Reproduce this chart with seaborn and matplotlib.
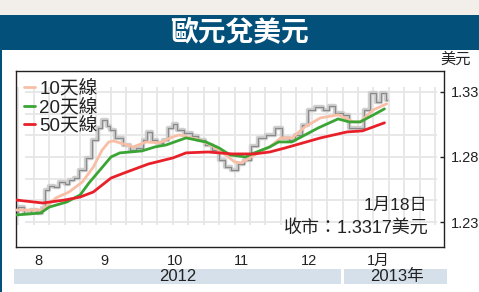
import matplotlib
matplotlib.use("Agg")
import matplotlib.pyplot as plt
import matplotlib.dates as mdates
from matplotlib.patches import Rectangle
from matplotlib.ticker import NullFormatter, FixedLocator, FixedFormatter
import seaborn as sns
import pandas as pd

# ---------------- data ----------------
price_dates = ["2012-08-05","2012-08-07","2012-08-10","2012-08-13","2012-08-16","2012-08-17","2012-08-19",
               "2012-08-21","2012-08-23","2012-08-26","2012-08-28","2012-08-30","2012-09-01","2012-09-04",
               "2012-09-07","2012-09-10","2012-09-12","2012-09-14","2012-09-16","2012-09-17","2012-09-21",
               "2012-09-24","2012-09-27","2012-09-30","2012-10-03","2012-10-04","2012-10-07","2012-10-09",
               "2012-10-12","2012-10-14","2012-10-16","2012-10-18","2012-10-22","2012-10-25","2012-10-28",
               "2012-10-31","2012-11-04","2012-11-06","2012-11-09","2012-11-12","2012-11-15","2012-11-18",
               "2012-11-21","2012-11-24","2012-11-29","2012-12-02","2012-12-05","2012-12-08","2012-12-11",
               "2012-12-14","2012-12-17","2012-12-20","2012-12-24","2012-12-26","2012-12-29","2013-01-02",
               "2013-01-04","2013-01-08","2013-01-11","2013-01-14","2013-01-16","2013-01-19","2013-01-20"]
price_vals = [1.2377,1.2415,1.2369,1.2392,1.2369,1.2408,1.2546,1.2577,1.2569,1.2608,1.2592,1.2623,1.2638,
              1.2700,1.2792,1.2931,1.3023,1.3085,1.3038,1.3008,1.2946,1.2892,1.2854,1.2869,1.2931,1.2992,
              1.2931,1.2908,1.2931,1.3023,1.3054,1.3008,1.2985,1.2962,1.2931,1.2892,1.2854,1.2777,1.2723,
              1.2700,1.2746,1.2777,1.2885,1.2946,1.2969,1.3023,1.2946,1.2931,1.2969,1.3046,1.3162,1.3185,
              1.3162,1.3192,1.3138,1.3123,1.3023,1.3023,1.3162,1.3292,1.3223,1.3292,1.3238]

ma10_dates = ["2012-08-05","2012-08-17","2012-08-23","2012-08-29","2012-09-04","2012-09-09","2012-09-13",
              "2012-09-16","2012-09-18","2012-09-21","2012-09-27","2012-10-03","2012-10-09","2012-10-15",
              "2012-10-18","2012-10-27","2012-11-02","2012-11-08","2012-11-12","2012-11-15","2012-11-21",
              "2012-11-28","2012-12-03","2012-12-08","2012-12-14","2012-12-21","2012-12-29","2013-01-05",
              "2013-01-08","2013-01-14","2013-01-20"]
ma10_vals = [1.2392,1.2392,1.2485,1.2531,1.2608,1.2723,1.2854,1.2915,1.2923,1.2908,1.2877,1.2915,1.2908,
             1.2954,1.2969,1.2931,1.2885,1.2815,1.2762,1.2754,1.2815,1.2877,1.2946,1.2946,1.3031,1.3100,
             1.3123,1.3069,1.3069,1.3162,1.3208]

ma20_dates = ["2012-08-05","2012-08-16","2012-08-20","2012-08-28","2012-09-03","2012-09-07","2012-09-12",
              "2012-09-17","2012-09-21","2012-10-01","2012-10-07","2012-10-12","2012-10-21","2012-10-30",
              "2012-11-05","2012-11-10","2012-11-17","2012-11-21","2012-11-28","2012-12-02","2012-12-08",
              "2012-12-20","2012-12-29","2013-01-03","2013-01-08","2013-01-14","2013-01-19"]
ma20_vals = [1.2354,1.2369,1.2415,1.2454,1.2508,1.2600,1.2700,1.2800,1.2831,1.2846,1.2877,1.2892,1.2946,
             1.2915,1.2869,1.2815,1.2800,1.2831,1.2877,1.2915,1.2915,1.3023,1.3092,1.3069,1.3069,1.3123,1.3169]

ma50_dates = ["2012-08-05","2012-08-17","2012-08-27","2012-09-03","2012-09-09","2012-09-17","2012-09-23",
              "2012-10-04","2012-10-15","2012-10-21","2012-10-31","2012-11-11","2012-11-21","2012-11-28",
              "2012-12-05","2012-12-21","2013-01-02","2013-01-09","2013-01-19"]
ma50_vals = [1.2469,1.2446,1.2469,1.2492,1.2531,1.2638,1.2677,1.2746,1.2792,1.2831,1.2838,1.2823,1.2823,
             1.2838,1.2869,1.2946,1.2992,1.3000,1.3062]

series_labels = ["10天線", "20天線", "50天線"]
month_label_dates = ["2012-08-15", "2012-09-14", "2012-10-16", "2012-11-15", "2012-12-16", "2013-01-16"]
month_labels = ["8", "9", "10", "11", "12", "1月"]
y_ticks = [1.23, 1.28, 1.33]
title = "歐元兌美元"
unit = "美元"
note_date = "1月18日"
note_close = "收市：1.3317美元"
years = ["2012", "2013年"]

# ---------------- style ----------------
sns.set_style("white")
plt.rcParams['font.family'] = ['Liberation Sans', 'Noto Sans CJK TC', 'DejaVu Sans']
TXT = '#222222'

fig = plt.figure(figsize=(4.79, 2.92), dpi=100)
fig.patch.set_facecolor('white')

# header bands
fig.add_artist(Rectangle((0, 277/292), 1, 15/292, transform=fig.transFigure,
                         facecolor='#f2efea', edgecolor='none', zorder=0))
fig.add_artist(Rectangle((0, 242/292), 1, 35/292, transform=fig.transFigure,
                         facecolor='#03507a', edgecolor='none', zorder=0))
fig.add_artist(Rectangle((0, 0), 2/479, 242/292, transform=fig.transFigure,
                         facecolor='#03507a', edgecolor='none', zorder=0))
fig.text(0.5, 259.5/292, title, color='white', fontsize=20, fontweight='bold',
         family=['Noto Sans CJK TC'], ha='center', va='center')

ax = fig.add_axes([16/479, 45/292, 428/479, 176/292])

x0 = pd.Timestamp("2012-08-01") + pd.Timedelta(days=3.9)
x1 = pd.Timestamp("2012-08-01") + pd.Timedelta(days=198)

# faint background grid (weekly / horizontal)
mondays = pd.date_range("2012-08-06", "2013-02-11", freq="7D")
ax.vlines(mondays, 1.2275, 1.334, color='#e6e6e6', lw=1.3, zorder=0)
hvals = [1.33 - k * 0.05 / 3 for k in range(7)]
ax.hlines(hvals, pd.Timestamp("2012-08-09"), pd.Timestamp("2013-02-12"), color='#e6e6e6', lw=1.3, zorder=0)

# price line (blurred candle look)
pdates = pd.to_datetime(price_dates)
sns.lineplot(x=pdates, y=price_vals, ax=ax, color='#cfcfcf', lw=3.2, drawstyle='steps-mid', zorder=2)
sns.lineplot(x=pdates, y=price_vals, ax=ax, color='#8a8a8a', lw=0.9, drawstyle='steps-mid', zorder=2)

colors = ['#f8bfa6', '#3aa535', '#e8202a']
sns.lineplot(x=pd.to_datetime(ma10_dates), y=ma10_vals, ax=ax, color=colors[0], lw=2, label=series_labels[0], zorder=3)
sns.lineplot(x=pd.to_datetime(ma20_dates), y=ma20_vals, ax=ax, color=colors[1], lw=2, label=series_labels[1], zorder=4)
sns.lineplot(x=pd.to_datetime(ma50_dates), y=ma50_vals, ax=ax, color=colors[2], lw=2, label=series_labels[2], zorder=5)

ax.set_xlim(x0, x1)
ax.set_ylim(1.2108, 1.346)
ax.set_xlabel("")
ax.set_ylabel("")

leg = ax.legend(loc='upper left', bbox_to_anchor=(0.0, 0.99), frameon=False, fontsize=13.5,
                handlelength=0.6, handletextpad=0.25, labelspacing=0.05, borderpad=0.2, borderaxespad=0.2)
for t in leg.get_texts():
    t.set_color(TXT)

# axes / ticks
for s in ax.spines.values():
    s.set_visible(True)
    s.set_color('#222222')
    s.set_linewidth(1)

ax.xaxis.set_major_locator(mdates.MonthLocator())
ax.xaxis.set_major_formatter(NullFormatter())
ax.xaxis.set_minor_locator(FixedLocator(mdates.date2num(pd.to_datetime(month_label_dates))))
ax.xaxis.set_minor_formatter(FixedFormatter(month_labels))
ax.tick_params(axis='x', which='major', direction='in', length=3, width=1, color='#222222')
ax.tick_params(axis='x', which='minor', length=0, pad=5, labelsize=10.5, labelcolor=TXT)

ax.yaxis.tick_right()
ax.set_yticks(y_ticks)
ax.set_yticklabels([f"{v:.2f}" for v in y_ticks])
ax.tick_params(axis='y', direction='in', length=3, width=1, pad=5, labelsize=10.5,
               color='#222222', labelcolor=TXT)

# annotation
ax.text(0.962, 0.239, note_date, transform=ax.transAxes, ha='right', va='center', fontsize=12.5, color=TXT)
ax.text(0.965, 0.108, note_close, transform=ax.transAxes, ha='right', va='center', fontsize=13, color=TXT)

# unit label
fig.text(456/479, (292-60)/292, unit, ha='center', va='center', fontsize=11, color=TXT)

# year band
band_y = 8/292
band_h = 15/292
fig.add_artist(Rectangle((14/479, band_y), (341-14)/479, band_h, transform=fig.transFigure,
                         facecolor='#d5e0ea', edgecolor='none'))
fig.add_artist(Rectangle((344/479, band_y), (447-344)/479, band_h, transform=fig.transFigure,
                         facecolor='#d5e0ea', edgecolor='none'))
fig.text(178/479, band_y + band_h/2, years[0], ha='center', va='center', fontsize=12, color=TXT)
fig.text(397/479, band_y + band_h/2, years[1], ha='center', va='center', fontsize=12, color=TXT)

fig.savefig("out.png", dpi=100)
